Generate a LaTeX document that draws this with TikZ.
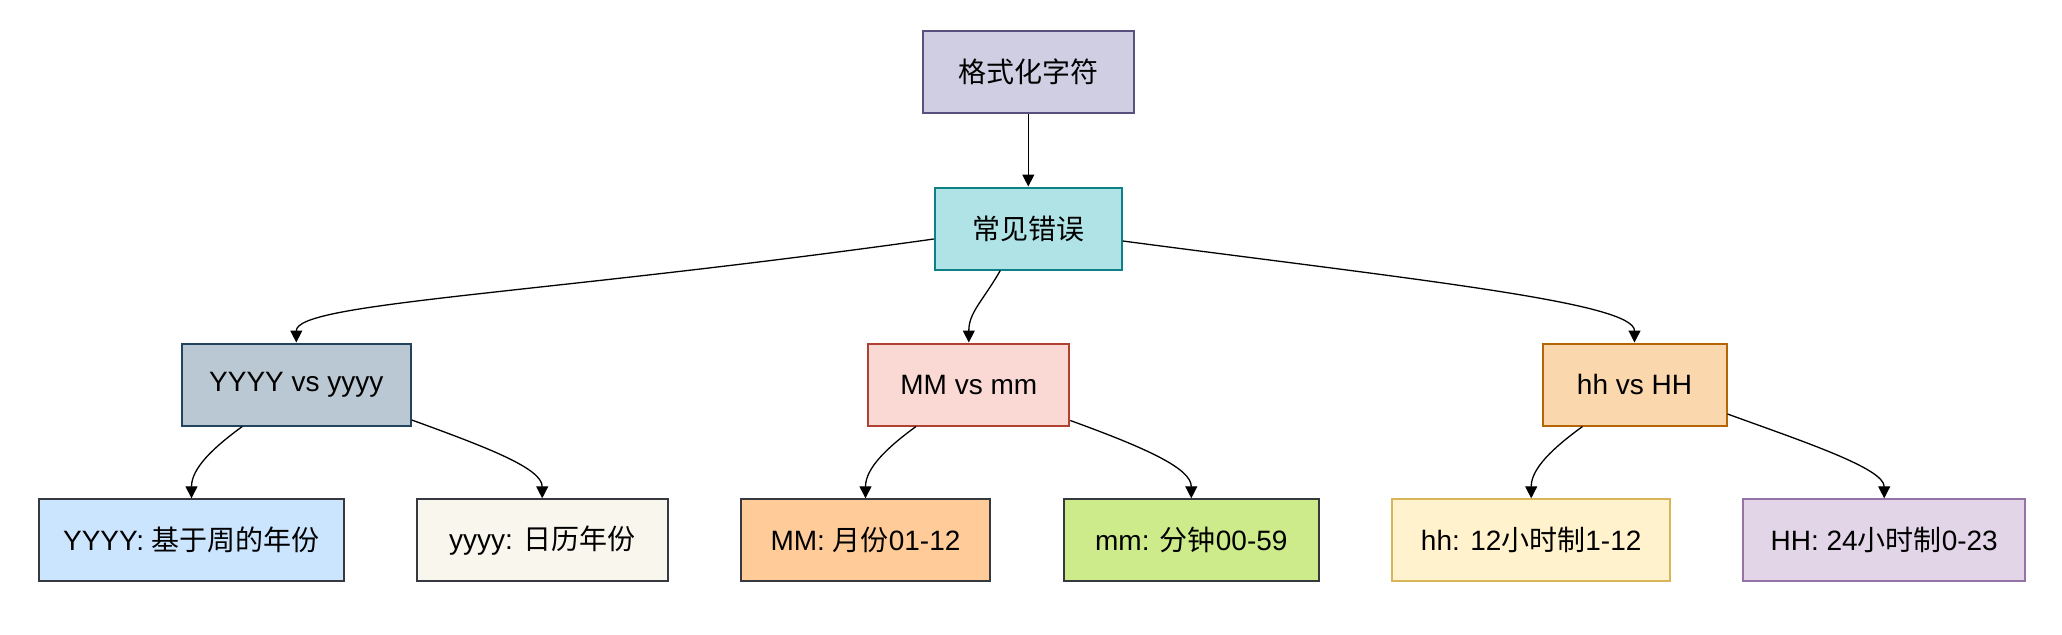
\documentclass[tikz,border=0pt]{standalone}
\usepackage{fontspec}
\setmainfont{Liberation Sans}
\newfontfamily\cjk{Noto Sans CJK SC}
\usepackage{tikz}
\usetikzlibrary{arrows.meta}

\definecolor{rootfill}{HTML}{D0CEE2}
\definecolor{rootline}{HTML}{56517E}
\definecolor{errfill}{HTML}{B0E3E6}
\definecolor{errline}{HTML}{0E8088}
\definecolor{yyfill}{HTML}{BAC8D3}
\definecolor{yyline}{HTML}{23445D}
\definecolor{mmfill}{HTML}{FAD9D5}
\definecolor{mmline}{HTML}{AE4132}
\definecolor{hhfill}{HTML}{FAD7AC}
\definecolor{hhline}{HTML}{B46504}
\definecolor{leafline}{HTML}{36393D}
\definecolor{bluefill}{HTML}{CCE5FF}
\definecolor{creamfill}{HTML}{F9F7ED}
\definecolor{orangefill}{HTML}{FFCC99}
\definecolor{greenfill}{HTML}{CDEB8B}
\definecolor{yellowfill}{HTML}{FFF2CC}
\definecolor{yellowline}{HTML}{D6B656}
\definecolor{purplefill}{HTML}{E1D5E7}
\definecolor{purpleline}{HTML}{9673A6}

\begin{document}
\begin{tikzpicture}[x=0.5pt,y=0.5pt,
    box/.style={draw, line width=1pt, minimum height=41pt, inner sep=0pt,
      font=\fontsize{14}{17}\selectfont},
    edge/.style={line width=0.65pt, -{Triangle[width=6pt,length=6pt]}}]
    \useasboundingbox (0,0) rectangle (2062,-634);
    % top two levels
    \node[box, fill=rootfill, draw=rootline, minimum width=105.5pt] (root) at (1028.3,-72) {\cjk 格式化字符};
    \node[box, fill=errfill, draw=errline, minimum width=93.5pt] (err) at (1028.3,-228.5) {\cjk 常见错误};
    % the three pairs
    \node[box, fill=yyfill, draw=yyline, minimum width=114.5pt] (yy) at (296.3,-384.5) {YYYY vs yyyy};
    \node[box, fill=mmfill, draw=mmline, minimum width=100.5pt] (mm) at (968.8,-384.5) {MM vs mm};
    \node[box, fill=hhfill, draw=hhline, minimum width=92pt] (hh) at (1634.5,-384.5) {hh vs HH};
    % leaves
    \node[box, fill=bluefill, draw=leafline, minimum width=152.5pt] (yyweek) at (191.5,-540.3) {YYYY: {\cjk 基于周的年份}};
    \node[box, fill=creamfill, draw=leafline, minimum width=125.5pt] (yycal) at (542.2,-540.3) {yyyy: {\cjk 日历年份}};
    \node[box, fill=orangefill, draw=leafline, minimum width=124.5pt] (mmmonth) at (865.5,-540.3) {MM: {\cjk 月份}01-12};
    \node[box, fill=greenfill, draw=leafline, minimum width=127.3pt] (mmmin) at (1191.3,-540.3) {mm: {\cjk 分钟}00-59};
    \node[box, fill=yellowfill, draw=yellowline, minimum width=139pt] (hhtwelve) at (1531.2,-540.3) {hh: 12{\cjk 小时制}1-12};
    \node[box, fill=purplefill, draw=purpleline, minimum width=141pt] (hhday) at (1884.2,-540.3) {HH: 24{\cjk 小时制}0-23};

    \draw[edge] (root) -- (err);
    \draw[edge] ([yshift=-5.25pt]err.west)
      to[out=188,in=90,out distance=200pt,in distance=20pt] (yy.north);
    \draw[edge] ([xshift=-14pt]err.south)
      to[out=240,in=90,out distance=18pt,in distance=15pt] (mm.north);
    \draw[edge] ([yshift=-6.25pt]err.east)
      to[out=-7.5,in=90,out distance=150pt,in distance=20pt] (hh.north);

    \draw[edge] ([xshift=-27pt]yy.south)
      to[out=216,in=90,out distance=18pt,in distance=15pt] (yyweek.north);
    \draw[edge] ([yshift=-17.75pt]yy.east)
      to[out=-20,in=90,out distance=40pt,in distance=15pt] (yycal.north);
    \draw[edge] ([xshift=-26.4pt]mm.south)
      to[out=216,in=90,out distance=18pt,in distance=15pt] (mmmonth.north);
    \draw[edge] ([yshift=-18pt]mm.east)
      to[out=-20,in=90,out distance=40pt,in distance=15pt] (mmmin.north);
    \draw[edge] ([xshift=-26pt]hh.south)
      to[out=216,in=90,out distance=18pt,in distance=15pt] (hhtwelve.north);
    \draw[edge] ([yshift=-14.75pt]hh.east)
      to[out=-20,in=90,out distance=40pt,in distance=15pt] (hhday.north);
\end{tikzpicture}
\end{document}
